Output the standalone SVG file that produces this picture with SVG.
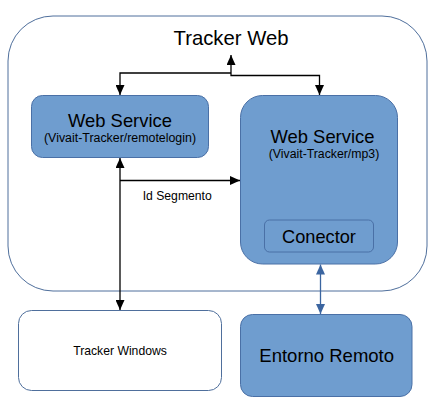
<svg xmlns="http://www.w3.org/2000/svg" width="436" height="404" viewBox="0 0 436 404">
<defs>
<style>
.node{fill:#6f9dcf;stroke:#4a70a6;stroke-width:1}
.outer{fill:#ffffff;stroke:#4f6f9c;stroke-width:1}
.white{fill:#ffffff;stroke:#4f6f9c;stroke-width:1}
text{font-family:"Liberation Sans",Arial,sans-serif;fill:#000000;text-anchor:middle}
.blk{fill:none;stroke:#000000;stroke-width:1.3}
.blu{fill:none;stroke:#3b65a0;stroke-width:1.3}
</style>
<marker id="ak" viewBox="0 0 10 9" refX="10" refY="4.5" markerWidth="10" markerHeight="9" markerUnits="userSpaceOnUse" orient="auto-start-reverse"><path d="M0,0 L10,4.5 L0,9 z" fill="#000000"/></marker>
<marker id="ab" viewBox="0 0 10 9" refX="10" refY="4.5" markerWidth="10" markerHeight="9" markerUnits="userSpaceOnUse" orient="auto-start-reverse"><path d="M0,0 L10,4.5 L0,9 z" fill="#3b65a0"/></marker>
</defs>
<rect width="436" height="404" fill="#ffffff"/>
<g id="tracker-web">
<rect class="outer" x="8" y="16" width="419" height="275" rx="45" ry="45"/>
<text x="231" y="45" font-size="20.3">Tracker Web</text>
</g>
<g id="ws-remotelogin">
<rect class="node" x="31.5" y="95.5" width="177" height="62" rx="11" ry="11"/>
<text x="120" y="127" font-size="18.4">Web Service</text>
<text x="120" y="141.5" font-size="12" textLength="152" lengthAdjust="spacingAndGlyphs">(Vivait-Tracker/remotelogin)</text>
</g>
<g id="ws-mp3">
<rect class="node" x="240.5" y="95.5" width="157" height="168.5" rx="22" ry="22"/>
<text x="322.5" y="143" font-size="18.4">Web Service</text>
<text x="324" y="158.3" font-size="12" textLength="110.5" lengthAdjust="spacingAndGlyphs">(Vivait-Tracker/mp3)</text>
</g>
<g id="conector">
<rect class="node" x="264.5" y="220" width="109" height="32" rx="5" ry="5"/>
<text x="319" y="242.7" font-size="18.2">Conector</text>
</g>
<g id="tracker-windows">
<rect class="white" x="18.5" y="310.5" width="203" height="80" rx="13" ry="13"/>
<text x="120" y="355" font-size="12.2">Tracker Windows</text>
</g>
<g id="entorno-remoto">
<rect class="node" x="240.5" y="314.5" width="171.5" height="82" rx="12" ry="12"/>
<text x="326.7" y="361.7" font-size="18.5">Entorno Remoto</text>
</g>
<g id="connectors">
<path class="blk" d="M231,73 L231,55" marker-end="url(#ak)"/>
<path class="blk" d="M231,73 L120,73 L120,95" marker-end="url(#ak)"/>
<path class="blk" d="M231,73 L231,75.5 L319.5,75.5 L319.5,95" marker-end="url(#ak)"/>
<path class="blk" d="M120,158 L120,310" marker-start="url(#ak)" marker-end="url(#ak)"/>
<path class="blk" d="M120,180.5 L240,180.5" marker-end="url(#ak)"/>
<text x="177.2" y="199.5" font-size="12.2">Id Segmento</text>
<path class="blu" d="M320.5,264.5 L320.5,314" marker-start="url(#ab)" marker-end="url(#ab)"/>
</g>
</svg>
